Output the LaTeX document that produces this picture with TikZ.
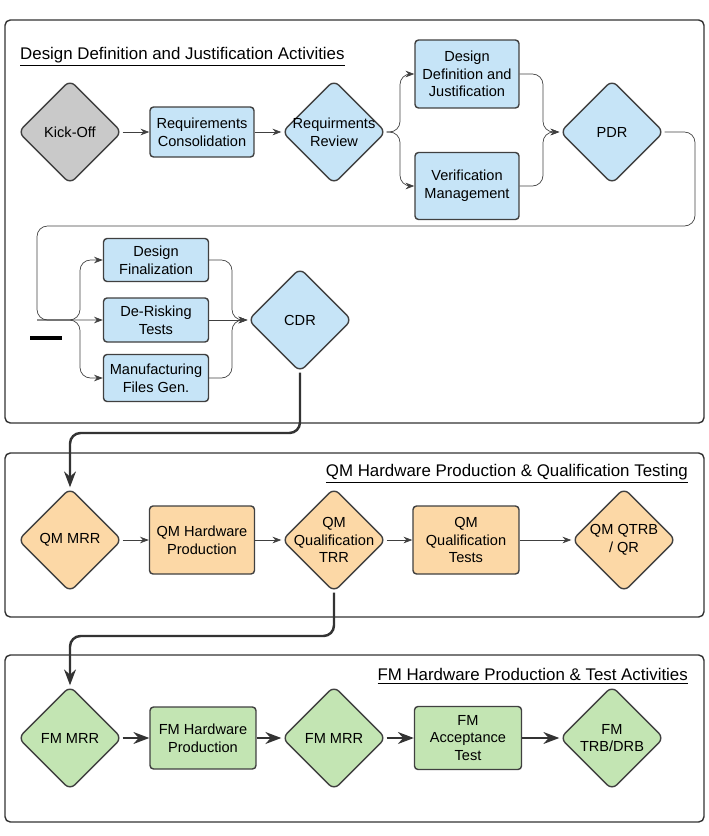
\documentclass[tikz,border=0pt]{standalone}
\usepackage{fontspec}
\setmainfont{Liberation Sans}
\usetikzlibrary{arrows.meta}
\usetikzlibrary{shapes.geometric}
\definecolor{boxblue}{HTML}{C6E4F7}
\definecolor{boxorange}{HTML}{FCD8A6}
\definecolor{boxgreen}{HTML}{C3E5B3}
\definecolor{boxgray}{HTML}{C9C9C9}
\tikzset{
  panel/.style={draw=black!80, thick, rounded corners=3pt},
  task/.style={draw=black!75, thick, rounded corners=2pt, align=center, inner sep=1pt,
    font=\fontsize{8.3}{10}\selectfont},
  gate/.style={diamond, draw=black!75, thick, rounded corners=4pt, inner sep=0pt,
    minimum width=2.08cm, minimum height=2.08cm},
  gtext/.style={align=center, inner sep=0pt, font=\fontsize{8.3}{10}\selectfont},
  flow/.style={draw=black!75, -{Stealth[length=5pt]}, rounded corners=6pt},
  bigflow/.style={draw=black!80, line width=1.4pt, -{Stealth[length=9pt]}, rounded corners=6pt},
  title/.style={font=\fontsize{9.6}{11}\selectfont}
}
\begin{document}
\begin{tikzpicture}[x=0.02cm, y=-0.02cm]
    \useasboundingbox (0,0) rectangle (708,836);
    % panels
    \draw[panel] (5,20) rectangle (704,423);
    \draw[panel] (5,453) rectangle (704,617);
    \draw[panel] (5,655) rectangle (704,822);
    \node[title, anchor=west] (t1) at (14,57) {\underline{Design Definition and Justification Activities}};
    \node[title, anchor=east] (t2) at (694,474) {\underline{QM Hardware Production \& Qualification Testing}};
    \node[title, anchor=east] (t3) at (694,676) {\underline{FM Hardware Production \& Test Activities}};

    % design phase
    \node[gate, fill=boxgray, label={[gtext]center:Kick-Off}] (kick) at (70,132) {};
    \node[task, fill=boxblue, minimum width=2.08cm, minimum height=1.0cm] (reqc) at (202,132) {Requirements\\Consolidation};
    \node[gate, fill=boxblue, label={[gtext]center:Requirments\\Review}] (reqr) at (334,132) {};
    \node[task, fill=boxblue, minimum width=2.08cm, minimum height=1.36cm] (ddj) at (467,74) {Design\\Definition and\\Justification};
    \node[task, fill=boxblue, minimum width=2.08cm, minimum height=1.34cm] (vm) at (467,186) {Verification\\Management};
    \node[gate, fill=boxblue, label={[gtext]center:PDR}] (pdr) at (612,132) {};
    \node[task, fill=boxblue, minimum width=2.1cm, minimum height=0.86cm] (dfin) at (156,260) {Design\\Finalization};
    \node[task, fill=boxblue, minimum width=2.1cm, minimum height=0.88cm] (drt) at (156,320) {De-Risking\\Tests};
    \node[task, fill=boxblue, minimum width=2.1cm, minimum height=0.94cm] (mfg) at (156,378) {Manufacturing\\Files Gen.};
    \node[gate, fill=boxblue, label={[gtext]center:CDR}] (cdr) at (300,320) {};
    \draw[line width=2pt] (30,338) -- (62,338);

    \draw[flow] (kick) -- (reqc);
    \draw[flow] (reqc) -- (reqr);
    \draw[flow] (reqr.east) -- (400,132) |- (ddj.west);
    \draw[flow] (reqr.east) -- (400,132) |- (vm.west);
    \draw[flow] (ddj.east) -- (543,74) |- (pdr.west);
    \draw[flow] (vm.east) -- (543,186) |- (pdr.west);
    \draw[flow] (pdr.east) -- (695,132) -- (695,226) -- (37,226) -- (37,320) -- (drt.west);
    \draw[flow] (37,320) -- (80,320) |- (dfin.west);
    \draw[flow] (37,320) -- (80,320) |- (mfg.west);
    \draw[flow] (dfin.east) -- (232,260) |- (cdr.west);
    \draw[flow] (drt.east) -- (cdr.west);
    \draw[flow] (mfg.east) -- (232,378) |- (cdr.west);

    % QM phase
    \node[gate, fill=boxorange, label={[gtext]center:QM MRR}] (qmmrr) at (70,540) {};
    \node[task, fill=boxorange, minimum width=2.1cm, minimum height=1.36cm] (qmhw) at (202,540) {QM Hardware\\Production};
    \node[gate, fill=boxorange, label={[gtext]center:QM\\Qualification\\TRR}] (qmtrr) at (334,540) {};
    \node[task, fill=boxorange, minimum width=2.12cm, minimum height=1.36cm] (qmqt) at (466,540) {QM\\Qualification\\Tests};
    \node[gate, fill=boxorange, label={[gtext]center:QM QTRB\\/ QR}] (qmqr) at (624,540) {};
    \draw[bigflow] (cdr.south) -- (300,433) -- (70,433) -- (qmmrr.north);
    \draw[flow] (qmmrr) -- (qmhw);
    \draw[flow] (qmhw) -- (qmtrr);
    \draw[flow] (qmtrr) -- (qmqt);
    \draw[flow] (qmqt) -- (qmqr);

    % FM phase
    \node[gate, fill=boxgreen, label={[gtext]center:FM MRR}] (fmmrr) at (70,738) {};
    \node[task, fill=boxgreen, minimum width=2.12cm, minimum height=1.24cm] (fmhw) at (203,738) {FM Hardware\\Production};
    \node[gate, fill=boxgreen, label={[gtext]center:FM MRR}] (fmmrr2) at (334,738) {};
    \node[task, fill=boxgreen, minimum width=2.14cm, minimum height=1.26cm] (fmat) at (468,738) {FM\\Acceptance\\Test};
    \node[gate, fill=boxgreen, label={[gtext]center:FM\\TRB/DRB}] (fmtrb) at (612,738) {};
    \draw[bigflow] (qmtrr.south) -- (334,636) -- (70,636) -- (fmmrr.north);
    \draw[bigflow] (fmmrr) -- (fmhw);
    \draw[bigflow] (fmhw) -- (fmmrr2);
    \draw[bigflow] (fmmrr2) -- (fmat);
    \draw[bigflow] (fmat) -- (fmtrb);
\end{tikzpicture}
\end{document}
